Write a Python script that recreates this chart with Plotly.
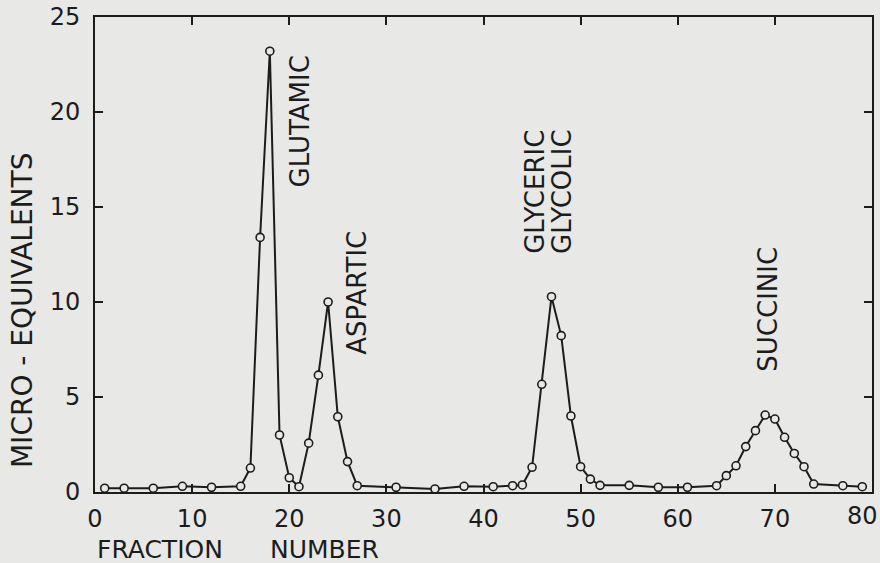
import plotly.graph_objects as go

fraction = [1, 3, 6, 9, 12, 15, 16, 17, 18, 19, 20, 21, 22, 23, 24, 25, 26, 27,
            31, 35, 38, 41, 43, 44, 45, 46, 47, 48, 49, 50, 51, 52, 55, 58, 61,
            64, 65, 66, 67, 68, 69, 70, 71, 72, 73, 74, 77, 79]
micro_eq = [0.2, 0.2, 0.2, 0.3, 0.25, 0.3, 1.26, 13.4, 23.2, 3.0, 0.75, 0.28,
            2.57, 6.15, 10.0, 3.96, 1.6, 0.33, 0.25, 0.16, 0.3, 0.28, 0.33,
            0.37, 1.3, 5.67, 10.28, 8.23, 4.0, 1.33, 0.68, 0.35, 0.35, 0.25,
            0.25, 0.33, 0.86, 1.38, 2.39, 3.23, 4.05, 3.84, 2.88, 2.03, 1.33,
            0.42, 0.33, 0.28]

peak_labels = ["GLUTAMIC", "ASPARTIC", "GLYCERIC", "GLYCOLIC", "SUCCINIC"]
peak_label_x = [21.1, 26.9, 45.3, 48.1, 69.3]
peak_label_y = [19.5, 10.5, 15.8, 15.8, 9.6]

x_ticks = [0, 10, 20, 30, 40, 50, 60, 70, 80]
x_tick_text = ["0", "10", "20", "30", "40", "50", "60", "70", ""]
last_x_label = "80"
y_ticks = [0, 5, 10, 15, 20, 25]

BG = "#e8e8e6"
INK = "#1c1c1c"
FONT = "DejaVu Sans"

fig = go.Figure()
fig.add_trace(go.Scatter(
    x=fraction, y=micro_eq, mode="lines+markers",
    line=dict(color=INK, width=2),
    marker=dict(symbol="circle", size=8, color=BG,
                line=dict(color=INK, width=1.6)),
    showlegend=False, hoverinfo="x+y",
))

annotations = []
for t, xv, yv in zip(peak_labels, peak_label_x, peak_label_y):
    annotations.append(dict(x=xv, y=yv, xref="x", yref="y", text=t,
                            textangle=-90, showarrow=False,
                            xanchor="center", yanchor="middle",
                            font=dict(family=FONT, size=26, color=INK)))

annotations.append(dict(x=-0.094, y=0.383, xref="paper", yref="paper",
                        text="MICRO - EQUIVALENTS", textangle=-90,
                        showarrow=False, xanchor="center", yanchor="middle",
                        font=dict(family=FONT, size=28, color=INK)))
annotations.append(dict(x=0.0, y=-0.122, xref="paper", yref="paper",
                        text="FRACTION", showarrow=False,
                        xanchor="left", yanchor="middle",
                        font=dict(family=FONT, size=25, color=INK)))
annotations.append(dict(x=0.223, y=-0.122, xref="paper", yref="paper",
                        text="NUMBER", showarrow=False,
                        xanchor="left", yanchor="middle",
                        font=dict(family=FONT, size=25, color=INK)))
annotations.append(dict(x=80, y=-0.051, xref="x", yref="paper",
                        text=last_x_label, showarrow=False,
                        xanchor="right", yanchor="middle", xshift=8,
                        font=dict(family=FONT, size=24, color=INK)))

fig.update_layout(
    width=880, height=563,
    margin=dict(l=95, r=8, t=17, b=71),
    paper_bgcolor=BG, plot_bgcolor=BG,
    annotations=annotations,
    xaxis=dict(range=[0, 80], tickvals=x_ticks, ticktext=x_tick_text,
               ticks="inside", ticklen=8,
               tickwidth=2, tickcolor=INK, showline=True, linecolor=INK,
               linewidth=2, mirror="ticks", showgrid=False, zeroline=False,
               automargin=False,
               ticklabelstandoff=4, ticklabeloverflow="allow",
               tickfont=dict(family=FONT, size=24, color=INK)),
    yaxis=dict(range=[0, 25], tickvals=y_ticks, ticks="inside", ticklen=8,
               tickwidth=2, tickcolor=INK, showline=True, linecolor=INK,
               linewidth=2, mirror="ticks", showgrid=False, zeroline=False,
               automargin=False,
               ticklabelstandoff=8, ticklabeloverflow="allow",
               tickfont=dict(family=FONT, size=24, color=INK)),
)

fig.write_html("out.html")
